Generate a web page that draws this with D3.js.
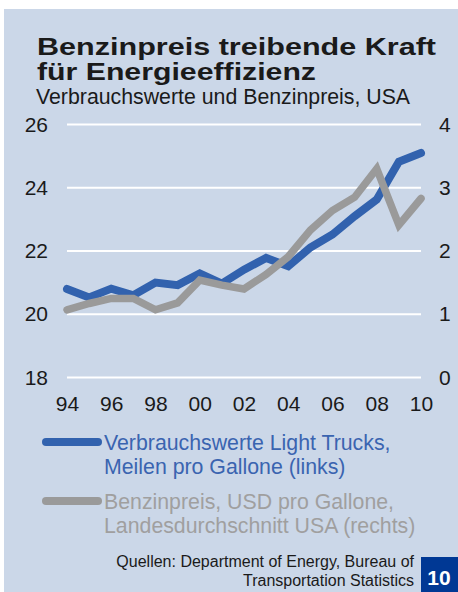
<!DOCTYPE html>
<html>
<head>
<meta charset="utf-8">
<script src="https://cdn.jsdelivr.net/npm/d3@7"></script>
<style>
  body { margin: 0; background: #fff; }
  text { font-family: "Liberation Sans", Arial, sans-serif; }
</style>
</head>
<body>
<div id="chart"></div>
<script>
// data
var years = [1994, 1995, 1996, 1997, 1998, 1999, 2000, 2001, 2002, 2003, 2004, 2005, 2006, 2007, 2008, 2009, 2010];
var mpgTrucks = [20.8, 20.53, 20.81, 20.6, 21.0, 20.92, 21.29, 20.97, 21.41, 21.78, 21.52, 22.11, 22.52, 23.1, 23.63, 24.82, 25.1];
var gasPrice = [1.07, 1.17, 1.25, 1.25, 1.07, 1.18, 1.54, 1.46, 1.40, 1.63, 1.91, 2.33, 2.64, 2.85, 3.30, 2.41, 2.83];
var leftTicks = [18, 20, 22, 24, 26];
var rightTicks = [0, 1, 2, 3, 4];
var xTicks = [1994, 1996, 1998, 2000, 2002, 2004, 2006, 2008, 2010];

var W = 458, H = 592;
var blue = "#3262ae", gray = "#9a9a9a", bg = "#cbd7e8";

var svg = d3.select("#chart").append("svg")
    .attr("width", W)
    .attr("height", H);

// panel
svg.append("rect")
    .attr("x", 4).attr("y", 9)
    .attr("width", W - 4).attr("height", H - 9)
    .attr("fill", bg);

// title
svg.append("text")
    .attr("x", 37).attr("y", 55)
    .attr("font-size", 23).attr("font-weight", 900)
    .attr("textLength", 399).attr("lengthAdjust", "spacingAndGlyphs")
    .attr("fill", "#1a1a1a")
    .text("Benzinpreis treibende Kraft");
svg.append("text")
    .attr("x", 37).attr("y", 80)
    .attr("font-size", 23).attr("font-weight", 900)
    .attr("textLength", 279).attr("lengthAdjust", "spacingAndGlyphs")
    .attr("fill", "#1a1a1a")
    .text("für Energieeffizienz");
svg.append("text")
    .attr("x", 36).attr("y", 104)
    .attr("font-size", 21.3)
    .attr("fill", "#1a1a1a")
    .text("Verbrauchswerte und Benzinpreis, USA");

// scales
var x = d3.scaleLinear().domain([1994, 2010]).range([67, 421]);
var yL = d3.scaleLinear().domain([18, 26]).range([377.5, 124.5]);
var yR = d3.scaleLinear().domain([0, 4]).range([377.5, 124.5]);

// grid lines
svg.append("g")
    .selectAll("line")
    .data(leftTicks)
    .enter().append("line")
    .attr("x1", 67).attr("x2", 421)
    .attr("y1", function (d) { return yL(d); })
    .attr("y2", function (d) { return yL(d); })
    .attr("stroke", "#fff")
    .attr("stroke-width", 2);

// left axis
var axL = svg.append("g")
    .attr("transform", "translate(48,0)")
    .call(d3.axisLeft(yL).tickValues(leftTicks).tickSize(0).tickPadding(0));
axL.select(".domain").remove();
axL.selectAll("text")
    .attr("font-family", "Liberation Sans, Arial, sans-serif")
    .attr("font-size", 21).attr("fill", "#1a1a1a");

// right axis
var axR = svg.append("g")
    .attr("transform", "translate(439,0)")
    .call(d3.axisRight(yR).tickValues(rightTicks).tickSize(0).tickPadding(0)
        .tickFormat(d3.format("d")));
axR.select(".domain").remove();
axR.selectAll("text")
    .attr("font-family", "Liberation Sans, Arial, sans-serif")
    .attr("font-size", 21).attr("fill", "#1a1a1a");

// x axis
var axX = svg.append("g")
    .attr("transform", "translate(0,396)")
    .call(d3.axisBottom(x).tickValues(xTicks).tickSize(0).tickPadding(0)
        .tickFormat(function (d) { return d3.format("02d")(d % 100); }));
axX.select(".domain").remove();
axX.selectAll("text")
    .attr("font-family", "Liberation Sans, Arial, sans-serif")
    .attr("font-size", 21).attr("fill", "#1a1a1a");

// lines
var lineL = d3.line()
    .x(function (d, i) { return x(years[i]); })
    .y(function (d) { return yL(d); });
var lineR = d3.line()
    .x(function (d, i) { return x(years[i]); })
    .y(function (d) { return yR(d); });

svg.append("path")
    .datum(mpgTrucks)
    .attr("d", lineL)
    .attr("fill", "none")
    .attr("stroke", blue)
    .attr("stroke-width", 8)
    .attr("stroke-linecap", "round");

svg.append("path")
    .datum(gasPrice)
    .attr("d", lineR)
    .attr("fill", "none")
    .attr("stroke", gray)
    .attr("stroke-width", 7.5)
    .attr("stroke-linecap", "round");

// legend
var legend = [
    {color: blue, textColor: "#3a64b0", y: 442, lines: ["Verbrauchswerte Light Trucks,", "Meilen pro Gallone (links)"]},
    {color: gray, textColor: "#a09f9f", y: 501, lines: ["Benzinpreis, USD pro Gallone,", "Landesdurchschnitt USA (rechts)"]}
];
legend.forEach(function (l) {
    svg.append("line")
        .attr("x1", 46).attr("x2", 98)
        .attr("y1", l.y).attr("y2", l.y)
        .attr("stroke", l.color)
        .attr("stroke-width", 8)
        .attr("stroke-linecap", "round");
    l.lines.forEach(function (t, i) {
        svg.append("text")
            .attr("x", 104).attr("y", l.y + 8 + i * 23.5)
            .attr("font-size", 21.3)
            .attr("fill", l.textColor)
            .text(t);
    });
});

// sources
svg.append("text")
    .attr("x", 414).attr("y", 567)
    .attr("text-anchor", "end")
    .attr("font-size", 16).attr("fill", "#1a1a1a")
    .text("Quellen: Department of Energy, Bureau of");
svg.append("text")
    .attr("x", 414).attr("y", 585.5)
    .attr("text-anchor", "end")
    .attr("font-size", 16).attr("fill", "#1a1a1a")
    .text("Transportation Statistics");

// page number box
svg.append("rect")
    .attr("x", 421).attr("y", 557)
    .attr("width", W - 421).attr("height", H - 557)
    .attr("fill", "#003894");
svg.append("text")
    .attr("x", 439).attr("y", 585)
    .attr("text-anchor", "middle")
    .attr("font-size", 21).attr("font-weight", "bold")
    .attr("fill", "#fff")
    .text("10");
</script>
</body>
</html>
